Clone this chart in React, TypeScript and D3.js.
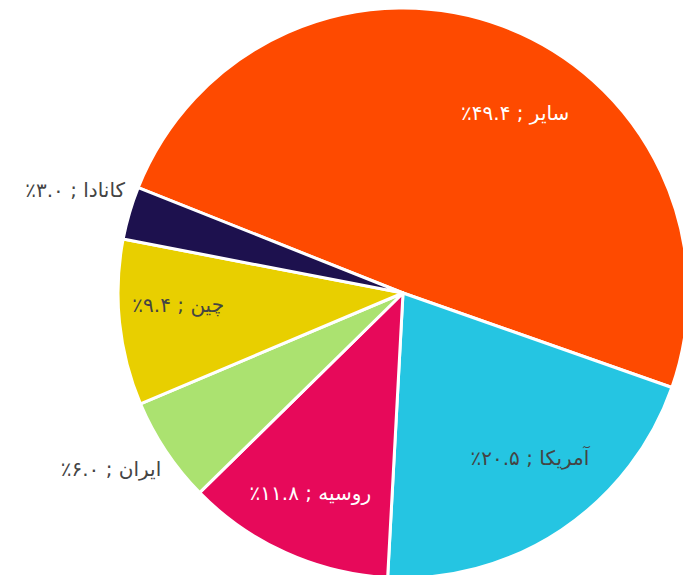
import React from "react";
import * as d3 from "d3";

const categories = ["سایر", "آمریکا", "روسیه", "ایران", "چین", "کانادا"];
const values = [49.4, 20.5, 11.8, 6.0, 9.4, 3.0];
const valueLabels = ["۴۹.۴", "۲۰.۵", "۱۱.۸", "۶.۰", "۹.۴", "۳.۰"];
const colors = ["#FE4A00", "#25C5E2", "#E7095A", "#ABE270", "#E8CF00", "#1D114E"];

// label layout: [angle (deg, clockwise from 12 o'clock), radius fraction, anchor, colour]
const labelLayout: [number, number, string, string][] = [
  [31.9, 0.745, "middle", "#ffffff"],
  [142.4, 0.73, "middle", "#444444"],
  [204.9, 0.772, "middle", "#ffffff"],
  [233.9, 1.05, "end", "#444444"],
  [267, 0.79, "middle", "#444444"],
  [290.3, 1.04, "end", "#444444"],
];

const W = 683;
const H = 575;
const CX = 403;
const CY = 293;
const R = 285;

export default function App() {
  const data = categories.map((c, i) => ({ c, v: values[i], i }));
  const pie = d3
    .pie<any>()
    .value((d) => d.v)
    .sort(null)
    .startAngle((-68.3 * Math.PI) / 180)
    .endAngle((-68.3 * Math.PI) / 180 + 2 * Math.PI);
  const arcs = pie(data);
  const arc = d3.arc<any>().innerRadius(0).outerRadius(R);

  return (
    <svg
      width={W}
      height={H}
      style={{ position: "absolute", left: 0, top: 0, background: "#fff" }}
    >
      <g transform={`translate(${CX},${CY})`}>
        {arcs.map((a, i) => (
          <path
            key={i}
            d={arc(a) as string}
            fill={colors[i]}
            stroke="#ffffff"
            strokeWidth={3}
            strokeLinejoin="round"
          />
        ))}
        {arcs.map((a, i) => {
          const [ang, rf, anchor, col] = labelLayout[i];
          const t = (ang * Math.PI) / 180;
          const x = Math.sin(t) * R * rf;
          const y = -Math.cos(t) * R * rf;
          return (
            <text
              key={"t" + i}
              x={x}
              y={y}
              textAnchor={anchor}
              dominantBaseline="central"
              fill={col}
              fontFamily="DejaVu Sans"
              fontSize={20}
              direction="ltr"
            >
              {"٪" + valueLabels[i] + " ; " + categories[i]}
            </text>
          );
        })}
      </g>
    </svg>
  );
}
